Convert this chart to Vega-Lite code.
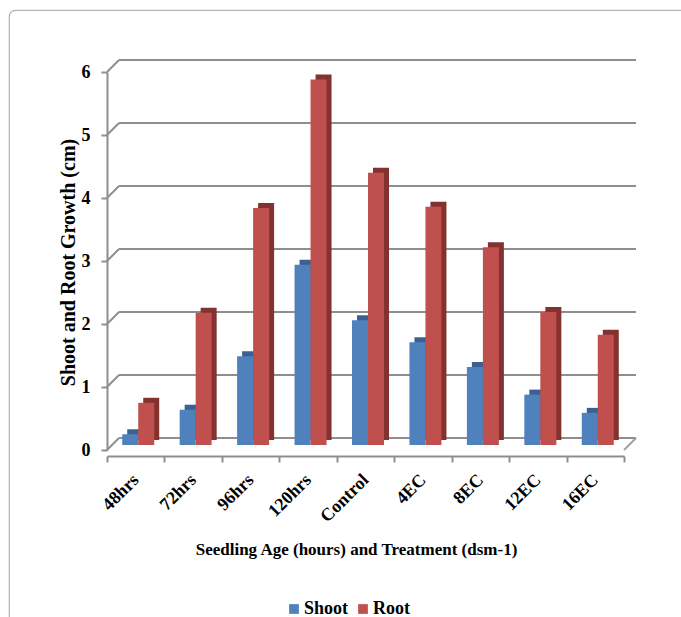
{
  "$schema": "https://vega.github.io/schema/vega-lite/v6.json",
  "autosize": "none",
  "width": 678,
  "height": 613,
  "padding": {"left": 9, "top": 10, "right": -6, "bottom": -6},
  "background": "white",
  "config": {
    "font": "Liberation Serif",
    "view": {"stroke": "#b3b3b3", "strokeWidth": 1.2, "cornerRadius": 6}
  },
  "datasets": {
    "growth": [
      {"stage": "48hrs", "part": "Shoot", "cm": 0.17},
      {"stage": "48hrs", "part": "Root", "cm": 0.67},
      {"stage": "72hrs", "part": "Shoot", "cm": 0.56},
      {"stage": "72hrs", "part": "Root", "cm": 2.1},
      {"stage": "96hrs", "part": "Shoot", "cm": 1.41},
      {"stage": "96hrs", "part": "Root", "cm": 3.76},
      {"stage": "120hrs", "part": "Shoot", "cm": 2.86},
      {"stage": "120hrs", "part": "Root", "cm": 5.8},
      {"stage": "Control", "part": "Shoot", "cm": 1.98},
      {"stage": "Control", "part": "Root", "cm": 4.32},
      {"stage": "4EC", "part": "Shoot", "cm": 1.63},
      {"stage": "4EC", "part": "Root", "cm": 3.78},
      {"stage": "8EC", "part": "Shoot", "cm": 1.24},
      {"stage": "8EC", "part": "Root", "cm": 3.14},
      {"stage": "12EC", "part": "Shoot", "cm": 0.8},
      {"stage": "12EC", "part": "Root", "cm": 2.11},
      {"stage": "16EC", "part": "Shoot", "cm": 0.51},
      {"stage": "16EC", "part": "Root", "cm": 1.75}
    ],
    "levels": [
      {"level": 0}, {"level": 1}, {"level": 2}, {"level": 3},
      {"level": 4}, {"level": 5}, {"level": 6}
    ]
  },
  "layer": [
    {
      "description": "back wall gridlines",
      "data": {"name": "levels"},
      "mark": {"type": "rule", "color": "#8e8e8e", "strokeWidth": 2, "xOffset": 12, "x2Offset": 12, "yOffset": -12},
      "encoding": {
        "x": {"datum": "48hrs", "bandPosition": 0, "type": "nominal", "scale": {"domain": ["48hrs", "72hrs", "96hrs", "120hrs", "Control", "4EC", "8EC", "12EC", "16EC"], "range": [98, 615], "paddingInner": 0, "paddingOuter": 0}},
        "x2": {"datum": "16EC", "bandPosition": 1},
        "y": {"field": "level", "type": "quantitative", "scale": {"domain": [0, 6], "range": [440, 62]}}
      }
    },
    {
      "description": "side wall depth strokes",
      "data": {"name": "levels"},
      "mark": {"type": "rule", "color": "#8e8e8e", "strokeWidth": 2, "x2Offset": 12, "y2Offset": -12},
      "encoding": {
        "x": {"datum": "48hrs", "bandPosition": 0, "type": "nominal"},
        "x2": {"datum": "48hrs", "bandPosition": 0},
        "y": {"field": "level", "type": "quantitative"},
        "y2": {"field": "level"}
      }
    },
    {
      "description": "floor right edge",
      "data": {"values": [{"level": 0}]},
      "mark": {"type": "rule", "color": "#a0a0a0", "strokeWidth": 2, "x2Offset": 12, "y2Offset": -12},
      "encoding": {
        "x": {"datum": "16EC", "bandPosition": 1, "type": "nominal"},
        "x2": {"datum": "16EC", "bandPosition": 1},
        "y": {"field": "level", "type": "quantitative"},
        "y2": {"field": "level"}
      }
    },
    {
      "description": "shoot column depth",
      "data": {"name": "growth"},
      "transform": [{"filter": "datum.part === 'Shoot'"}],
      "mark": {"type": "bar", "width": 16, "color": "#3a6192", "xOffset": -0.5, "x2Offset": -0.5, "yOffset": -10, "y2Offset": -10},
      "encoding": {
        "x": {"field": "stage", "type": "nominal", "sort": null},
        "y": {"field": "cm", "type": "quantitative"}
      }
    },
    {
      "description": "shoot column face",
      "data": {"name": "growth"},
      "transform": [{"filter": "datum.part === 'Shoot'"}],
      "mark": {"type": "bar", "width": 16, "xOffset": -5.5, "x2Offset": -5.5, "yOffset": -5, "y2Offset": -5},
      "encoding": {
        "x": {"field": "stage", "type": "nominal", "sort": null},
        "y": {"field": "cm", "type": "quantitative"},
        "color": {"field": "part", "type": "nominal", "scale": {"domain": ["Shoot", "Root"], "range": ["#4F81BD", "#C0504D"]}}
      }
    },
    {
      "description": "root column depth",
      "data": {"name": "growth"},
      "transform": [{"filter": "datum.part === 'Root'"}],
      "mark": {"type": "bar", "width": 16, "color": "#84322f", "xOffset": 15.5, "x2Offset": 15.5, "yOffset": -10, "y2Offset": -10},
      "encoding": {
        "x": {"field": "stage", "type": "nominal", "sort": null},
        "y": {"field": "cm", "type": "quantitative"}
      }
    },
    {
      "description": "root column face, with axes and legend",
      "data": {"name": "growth"},
      "transform": [{"filter": "datum.part === 'Root'"}],
      "mark": {"type": "bar", "width": 16, "xOffset": 10.5, "x2Offset": 10.5, "yOffset": -5, "y2Offset": -5},
      "encoding": {
        "x": {
          "field": "stage", "type": "nominal", "sort": null,
          "axis": {
            "title": "Seedling Age  (hours) and Treatment (dsm-1)",
            "offset": -167,
            "grid": false,
            "labelAngle": -45,
            "labelFontSize": 18,
            "labelFontWeight": "bold",
            "labelColor": "black",
            "labelPadding": 15,
            "tickBand": "extent",
            "tickSize": 6,
            "tickColor": "#8e8e8e",
            "tickWidth": 2,
            "domainColor": "#8e8e8e",
            "domainWidth": 2,
            "titleFontSize": 17,
            "titleFontWeight": "bold",
            "titleColor": "black",
            "titleX": 347,
            "titleY": 93,
            "titleAlign": "center",
            "titleBaseline": "middle"
          }
        },
        "y": {
          "field": "cm", "type": "quantitative",
          "axis": {
            "title": "Shoot and Root Growth (cm)",
            "offset": -98,
            "grid": false,
            "values": [0, 1, 2, 3, 4, 5, 6],
            "format": "d",
            "labelFontSize": 18,
            "labelFontWeight": "bold",
            "labelColor": "black",
            "labelPadding": 11,
            "tickSize": 6,
            "tickColor": "#8e8e8e",
            "tickWidth": 2,
            "domainColor": "#8e8e8e",
            "domainWidth": 2,
            "titleFontSize": 20,
            "titleFontWeight": "bold",
            "titleColor": "black",
            "titleAngle": -90,
            "titleX": -39,
            "titleY": 252,
            "titleAlign": "center",
            "titleBaseline": "middle"
          }
        },
        "color": {
          "field": "part", "type": "nominal",
          "scale": {"domain": ["Shoot", "Root"], "range": ["#4F81BD", "#C0504D"]},
          "legend": {
            "title": null,
            "orient": "none",
            "direction": "horizontal",
            "legendX": 276,
            "legendY": 590,
            "symbolType": "square",
            "symbolSize": 95,
            "symbolStrokeWidth": 0,
            "labelFontSize": 18,
            "labelFontWeight": "bold",
            "labelColor": "black",
            "labelOffset": 1,
            "columnPadding": 5,
            "padding": 0
          }
        }
      }
    }
  ]
}
